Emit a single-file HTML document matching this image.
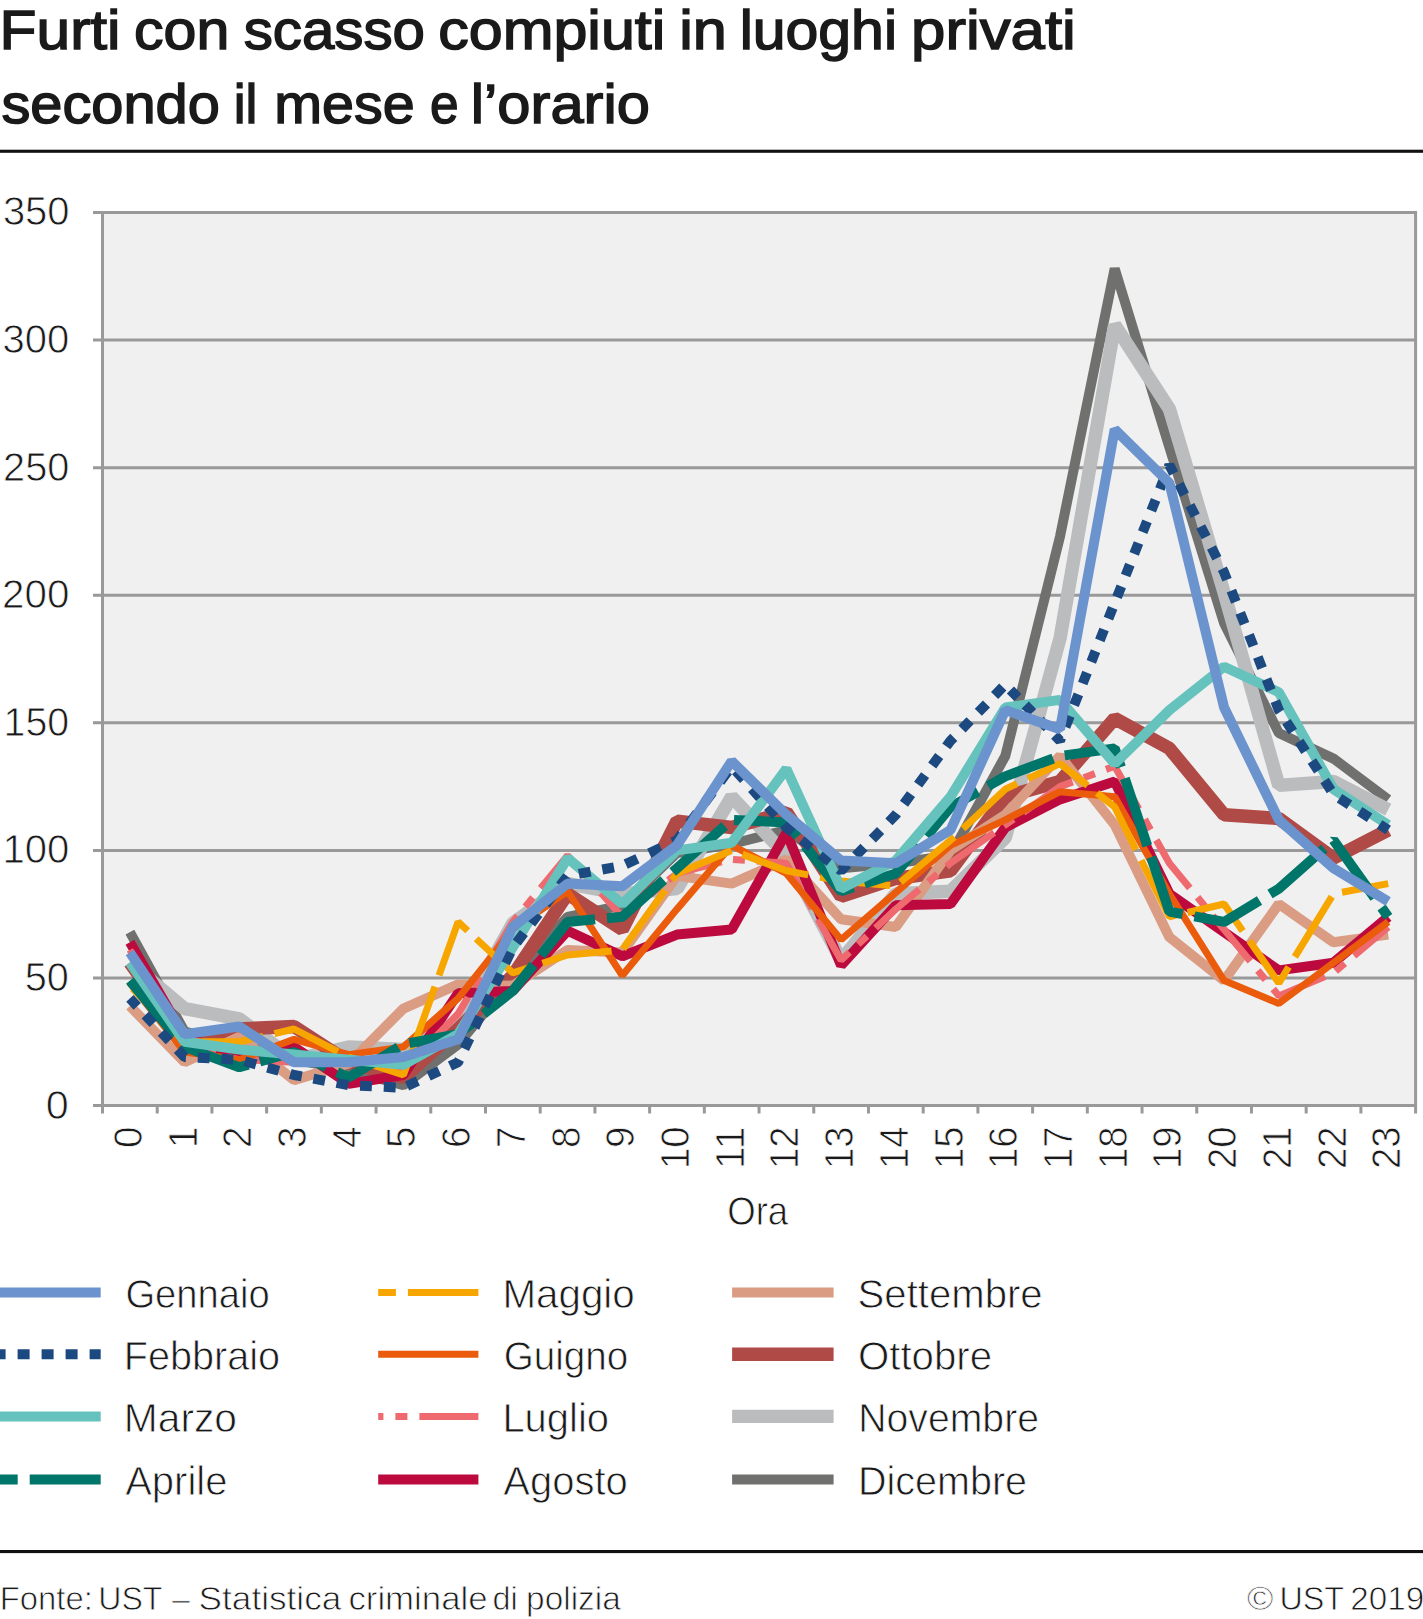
<!DOCTYPE html>
<html lang="it"><head><meta charset="utf-8"><title>Furti con scasso compiuti in luoghi privati secondo il mese e l’orario</title>
<style>html,body{margin:0;padding:0;background:#fff}body{width:1423px;height:1619px;overflow:hidden}svg{display:block}text{font-family:'Liberation Sans', sans-serif;fill:#1a1a1a}.lt{stroke:#fff;stroke-width:0.8px}.ti{stroke:#1a1a1a;stroke-width:1.5px}</style></head><body>
<svg width="1423" height="1619" viewBox="0 0 1423 1619">
<rect width="1423" height="1619" fill="#fff"/>
<text id="t1" class="ti" y="48.9" font-size="56"><tspan x="-0.4" textLength="120.9" lengthAdjust="spacingAndGlyphs">Furti</tspan> <tspan x="134.1" textLength="95.2" lengthAdjust="spacingAndGlyphs">con</tspan> <tspan x="243.7" textLength="181.3" lengthAdjust="spacingAndGlyphs">scasso</tspan> <tspan x="438.3" textLength="227.0" lengthAdjust="spacingAndGlyphs">compiuti</tspan> <tspan x="679.2" textLength="47.6" lengthAdjust="spacingAndGlyphs">in</tspan> <tspan x="739.7" textLength="157.3" lengthAdjust="spacingAndGlyphs">luoghi</tspan> <tspan x="911.1" textLength="164.7" lengthAdjust="spacingAndGlyphs">privati</tspan></text>
<text id="t2" class="ti" y="122.6" font-size="56"><tspan x="1.4" textLength="218.4" lengthAdjust="spacingAndGlyphs">secondo</tspan> <tspan x="233.7" textLength="23.7" lengthAdjust="spacingAndGlyphs">il</tspan> <tspan x="274.3" textLength="140.4" lengthAdjust="spacingAndGlyphs">mese</tspan> <tspan x="430.0" textLength="28.6" lengthAdjust="spacingAndGlyphs">e</tspan> <tspan x="470.8" textLength="179.1" lengthAdjust="spacingAndGlyphs">l’orario</tspan></text>
<rect x="0" y="149.7" width="1423" height="3.1" fill="#111"/>
<rect x="102.5" y="212.5" width="1313.1" height="893.1" fill="#f0f0f0"/>
<path d="M93.0 1105.60H1415.6M93.0 978.01H1415.6M93.0 850.43H1415.6M93.0 722.84H1415.6M93.0 595.26H1415.6M93.0 467.67H1415.6M93.0 340.09H1415.6M93.0 212.50H1415.6M102.5 211.1V1113.6M1415.6 211.1V1113.6M102.50 1105.6V1113.6M157.21 1105.6V1113.6M211.93 1105.6V1113.6M266.64 1105.6V1113.6M321.35 1105.6V1113.6M376.06 1105.6V1113.6M430.77 1105.6V1113.6M485.49 1105.6V1113.6M540.20 1105.6V1113.6M594.91 1105.6V1113.6M649.62 1105.6V1113.6M704.34 1105.6V1113.6M759.05 1105.6V1113.6M813.76 1105.6V1113.6M868.48 1105.6V1113.6M923.19 1105.6V1113.6M977.90 1105.6V1113.6M1032.61 1105.6V1113.6M1087.32 1105.6V1113.6M1142.04 1105.6V1113.6M1196.75 1105.6V1113.6M1251.46 1105.6V1113.6M1306.17 1105.6V1113.6M1360.89 1105.6V1113.6" fill="none" stroke="#999" stroke-width="3"/>
<text id="y0" class="lt" x="45.8" y="1118.5" font-size="41" textLength="23.0" lengthAdjust="spacingAndGlyphs">0</text>
<text id="y50" class="lt" x="24.7" y="990.9" font-size="41" textLength="44.1" lengthAdjust="spacingAndGlyphs">50</text>
<text id="y100" class="lt" x="2.5" y="863.3" font-size="41" textLength="66.8" lengthAdjust="spacingAndGlyphs">100</text>
<text id="y150" class="lt" x="3.6" y="735.7" font-size="41" textLength="65.5" lengthAdjust="spacingAndGlyphs">150</text>
<text id="y200" class="lt" x="2.1" y="608.2" font-size="41" textLength="67.3" lengthAdjust="spacingAndGlyphs">200</text>
<text id="y250" class="lt" x="3.1" y="480.6" font-size="41" textLength="66.2" lengthAdjust="spacingAndGlyphs">250</text>
<text id="y300" class="lt" x="2.5" y="353.0" font-size="41" textLength="66.7" lengthAdjust="spacingAndGlyphs">300</text>
<text id="y350" class="lt" x="2.9" y="225.4" font-size="41" textLength="66.6" lengthAdjust="spacingAndGlyphs">350</text>
<text class="lt" font-size="41" text-anchor="end" textLength="21.5" lengthAdjust="spacingAndGlyphs" transform="translate(141.9 1126.6) rotate(-90)">0</text>
<text class="lt" font-size="41" text-anchor="end" textLength="21.5" lengthAdjust="spacingAndGlyphs" transform="translate(196.6 1126.6) rotate(-90)">1</text>
<text class="lt" font-size="41" text-anchor="end" textLength="21.5" lengthAdjust="spacingAndGlyphs" transform="translate(251.3 1126.6) rotate(-90)">2</text>
<text class="lt" font-size="41" text-anchor="end" textLength="21.5" lengthAdjust="spacingAndGlyphs" transform="translate(306.0 1126.6) rotate(-90)">3</text>
<text class="lt" font-size="41" text-anchor="end" textLength="21.5" lengthAdjust="spacingAndGlyphs" transform="translate(360.7 1126.6) rotate(-90)">4</text>
<text class="lt" font-size="41" text-anchor="end" textLength="21.5" lengthAdjust="spacingAndGlyphs" transform="translate(415.4 1126.6) rotate(-90)">5</text>
<text class="lt" font-size="41" text-anchor="end" textLength="21.5" lengthAdjust="spacingAndGlyphs" transform="translate(470.1 1126.6) rotate(-90)">6</text>
<text class="lt" font-size="41" text-anchor="end" textLength="21.5" lengthAdjust="spacingAndGlyphs" transform="translate(524.8 1126.6) rotate(-90)">7</text>
<text class="lt" font-size="41" text-anchor="end" textLength="21.5" lengthAdjust="spacingAndGlyphs" transform="translate(579.6 1126.6) rotate(-90)">8</text>
<text class="lt" font-size="41" text-anchor="end" textLength="21.5" lengthAdjust="spacingAndGlyphs" transform="translate(634.3 1126.6) rotate(-90)">9</text>
<text class="lt" font-size="41" text-anchor="end" textLength="42.5" lengthAdjust="spacingAndGlyphs" transform="translate(689.0 1126.6) rotate(-90)">10</text>
<text class="lt" font-size="41" text-anchor="end" textLength="42.5" lengthAdjust="spacingAndGlyphs" transform="translate(743.7 1126.6) rotate(-90)">11</text>
<text class="lt" font-size="41" text-anchor="end" textLength="42.5" lengthAdjust="spacingAndGlyphs" transform="translate(798.4 1126.6) rotate(-90)">12</text>
<text class="lt" font-size="41" text-anchor="end" textLength="42.5" lengthAdjust="spacingAndGlyphs" transform="translate(853.1 1126.6) rotate(-90)">13</text>
<text class="lt" font-size="41" text-anchor="end" textLength="42.5" lengthAdjust="spacingAndGlyphs" transform="translate(907.8 1126.6) rotate(-90)">14</text>
<text class="lt" font-size="41" text-anchor="end" textLength="42.5" lengthAdjust="spacingAndGlyphs" transform="translate(962.5 1126.6) rotate(-90)">15</text>
<text class="lt" font-size="41" text-anchor="end" textLength="42.5" lengthAdjust="spacingAndGlyphs" transform="translate(1017.3 1126.6) rotate(-90)">16</text>
<text class="lt" font-size="41" text-anchor="end" textLength="42.5" lengthAdjust="spacingAndGlyphs" transform="translate(1072.0 1126.6) rotate(-90)">17</text>
<text class="lt" font-size="41" text-anchor="end" textLength="42.5" lengthAdjust="spacingAndGlyphs" transform="translate(1126.7 1126.6) rotate(-90)">18</text>
<text class="lt" font-size="41" text-anchor="end" textLength="42.5" lengthAdjust="spacingAndGlyphs" transform="translate(1181.4 1126.6) rotate(-90)">19</text>
<text class="lt" font-size="41" text-anchor="end" textLength="42.5" lengthAdjust="spacingAndGlyphs" transform="translate(1236.1 1126.6) rotate(-90)">20</text>
<text class="lt" font-size="41" text-anchor="end" textLength="42.5" lengthAdjust="spacingAndGlyphs" transform="translate(1290.8 1126.6) rotate(-90)">21</text>
<text class="lt" font-size="41" text-anchor="end" textLength="42.5" lengthAdjust="spacingAndGlyphs" transform="translate(1345.5 1126.6) rotate(-90)">22</text>
<text class="lt" font-size="41" text-anchor="end" textLength="42.5" lengthAdjust="spacingAndGlyphs" transform="translate(1400.2 1126.6) rotate(-90)">23</text>
<text id="ora" class="lt" x="727.2" y="1224.6" font-size="40.5" textLength="61.0" lengthAdjust="spacingAndGlyphs">Ora</text>
<g fill="none" stroke-linejoin="bevel" stroke-linecap="butt">
<polyline points="129.9,932.1 184.6,1031.6 239.3,1044.4 294.0,1059.7 348.7,1069.9 403.4,1085.2 458.1,1044.4 512.8,978.0 567.6,916.8 622.3,905.3 677.0,853.0 731.7,844.0 786.4,830.0 841.1,868.3 895.8,863.2 950.5,855.5 1005.3,756.0 1060.0,536.6 1114.7,268.6 1169.4,447.3 1224.1,623.3 1278.8,733.0 1333.5,758.6 1388.2,799.4" stroke="#70706f" stroke-width="10"/>
<polyline points="129.9,962.7 184.6,1008.6 239.3,1018.8 294.0,1059.7 348.7,1046.9 403.4,1049.5 458.1,1021.4 512.8,923.2 567.6,883.6 622.3,893.8 677.0,888.7 731.7,796.8 786.4,855.5 841.1,960.2 895.8,893.8 950.5,891.3 1005.3,837.7 1060.0,638.6 1114.7,324.8 1169.4,409.0 1224.1,592.7 1278.8,785.4 1333.5,781.5 1388.2,809.6" stroke="#bbbcbe" stroke-width="13.4"/>
<polyline points="129.9,962.7 184.6,1039.3 239.3,1029.0 294.0,1026.5 348.7,1062.2 403.4,1077.5 458.1,1029.0 512.8,975.5 567.6,893.8 622.3,929.5 677.0,821.1 731.7,827.5 786.4,812.2 841.1,896.4 895.8,878.5 950.5,870.8 1005.3,796.8 1060.0,781.5 1114.7,718.5 1169.4,748.4 1224.1,814.7 1278.8,818.5 1333.5,858.1 1388.2,830.0" stroke="#b04a46" stroke-width="13.4"/>
<polyline points="129.9,1006.1 184.6,1062.2 239.3,1036.7 294.0,1080.1 348.7,1063.5 403.4,1008.6 458.1,984.4 512.8,985.7 567.6,949.9 622.3,952.5 677.0,875.9 731.7,883.6 786.4,859.4 841.1,919.3 895.8,927.0 950.5,850.4 1005.3,814.7 1060.0,756.0 1114.7,824.9 1169.4,937.2 1224.1,980.6 1278.8,904.0 1333.5,942.3 1388.2,934.6" stroke="#db9c84" stroke-width="10"/>
<polyline points="129.9,942.3 184.6,1036.7 239.3,1057.1 294.0,1046.9 348.7,1083.9 403.4,1075.0 458.1,993.3 512.8,990.8 567.6,930.8 622.3,956.3 677.0,934.6 731.7,929.5 786.4,832.6 841.1,965.3 895.8,905.3 950.5,904.0 1005.3,827.5 1060.0,799.4 1114.7,781.5 1169.4,893.8 1224.1,932.1 1278.8,970.4 1333.5,962.7 1388.2,916.8" stroke="#bc0a3e" stroke-width="10"/>
<path d="M129.9 949.9L153.1 991.2M159.1 1001.7L165.0 1012.2M170.9 1022.8L184.6 1046.9L215.4 1054.1M227.2 1056.9L239.0 1059.6M251.1 1060.2L294.0 1062.2L310.4 1061.8M322.5 1061.6L334.6 1061.3M346.7 1061.0L348.7 1060.9L403.4 1069.9L404.8 1068.5M413.2 1059.8L421.7 1051.1M430.1 1042.5L458.1 1013.7L468.0 997.2M474.1 986.9L480.3 976.6M486.4 966.3L512.8 921.9L517.6 916.1M525.3 906.8L532.9 897.6M540.6 888.3L567.6 855.5L578.1 867.4M585.8 875.9L593.4 884.4M601.0 893.0L622.3 916.8L641.3 901.7M650.3 894.5L659.3 887.4M668.2 880.3L677.0 873.4L721.6 861.9M733.0 859.5L744.9 860.3M756.7 861.1L786.4 863.2L800.5 888.2M806.4 898.6L812.2 908.9M818.0 919.3L841.1 960.2L849.5 952.3M858.2 944.2L866.9 936.1M875.6 928.0L895.8 909.1L919.3 889.4M928.4 881.8L937.5 874.2M946.6 866.5L950.5 863.2L994.1 832.7M1003.8 825.9L1005.3 824.9L1013.6 819.1M1023.3 812.3L1060.0 786.6L1072.7 781.9M1083.8 777.7L1094.9 773.6M1106.0 769.4L1114.7 766.2L1138.8 809.0M1144.7 819.3L1150.5 829.7M1156.3 840.0L1169.4 863.2L1189.8 888.0M1197.5 897.2L1205.1 906.5M1212.7 915.7L1224.1 929.5L1250.3 961.2M1257.9 970.5L1265.5 979.8M1273.2 989.0L1278.8 995.9L1325.0 976.5M1335.7 971.1L1344.8 963.4M1354.0 955.7L1388.2 927.0" stroke="#ee6a6e" stroke-width="7"/>
<polyline points="129.9,983.1 184.6,1052.0 239.3,1059.7 294.0,1039.3 348.7,1054.6 403.4,1046.9 458.1,998.4 512.8,929.5 567.6,891.3 622.3,975.5 677.0,909.1 731.7,845.3 786.4,873.4 841.1,939.7 895.8,892.5 950.5,845.3 1005.3,819.8 1060.0,791.7 1114.7,796.8 1169.4,893.8 1224.1,980.6 1278.8,1003.5 1333.5,962.7 1388.2,921.9" stroke="#ea5b0c" stroke-width="7"/>
<path d="M132.6 988.5L182.2 1039.4M193.2 1041.8L239.3 1041.8L263.0 1036.3M274.4 1033.6L294.0 1029.0L337.9 1051.6M348.4 1057.0L348.7 1057.1L403.4 1075.0L407.3 1064.1M411.3 1052.9L435.0 986.6M439.0 975.4L458.1 921.9L467.7 930.8M476.2 938.8L512.8 972.9L531.1 967.0M542.4 963.3L567.6 955.0L611.6 950.9M623.0 948.9L665.0 890.2M672.1 880.3L677.0 873.4L731.5 850.5M742.4 854.4L786.4 870.8L808.2 874.9M820.0 877.1L841.1 881.0L890.2 885.6M900.6 882.1L950.5 840.2L954.3 836.8M963.0 828.6L1005.3 789.2L1017.0 783.7M1027.9 778.6L1060.0 763.7L1087.6 785.6M1097.0 793.0L1114.7 807.0L1135.9 849.7M1141.2 860.3L1169.4 916.8L1176.0 915.2M1187.5 912.5L1224.1 904.0L1242.7 930.9M1249.5 940.7L1278.8 983.1L1288.7 967.0M1294.9 956.8L1331.8 896.7M1342.0 892.2L1388.2 883.6" stroke="#f7a600" stroke-width="7"/>
<path d="M129.9 980.6L175.0 1035.3M182.6 1044.5L184.6 1046.9L239.3 1067.3L248.4 1064.8M259.9 1061.5L294.0 1052.0L326.2 1067.1M337.1 1072.1L348.7 1077.5L398.4 1047.4M409.4 1043.2L458.1 1034.2L474.4 1021.3M483.7 1013.9L512.8 990.8L533.5 964.8M540.9 955.4L567.6 921.9L595.1 919.3M607.0 918.2L622.3 916.8L663.7 880.0M672.7 872.1L677.0 868.3L724.6 826.1M734.0 819.9L786.4 822.4L797.6 836.5M805.1 845.9L841.1 891.3L853.3 887.3M864.5 883.6L895.8 873.4L919.1 845.2M926.6 836.1L950.5 807.0L978.1 791.7M988.2 786.0L1005.3 776.4L1053.2 758.5M1064.7 755.4L1114.7 748.4L1120.9 767.1M1124.8 778.4L1147.3 845.8M1151.2 857.2L1169.4 911.7L1182.7 914.2M1194.5 916.3L1224.1 921.9L1259.5 900.4M1270.0 894.1L1278.8 888.7L1324.3 848.4M1333.3 840.4L1333.5 840.2L1374.6 897.8M1381.6 907.5L1388.2 916.8" stroke="#00756a" stroke-width="10"/>
<polyline points="129.9,962.7 184.6,1041.8 239.3,1049.5 294.0,1054.6 348.7,1059.7 403.4,1064.8 458.1,1034.2 512.8,947.4 567.6,858.1 622.3,904.0 677.0,850.4 731.7,842.8 786.4,768.8 841.1,888.7 895.8,860.6 950.5,796.8 1005.3,707.5 1060.0,699.9 1114.7,763.7 1169.4,710.1 1224.1,666.7 1278.8,692.2 1333.5,789.2 1388.2,824.9" stroke="#66c2bc" stroke-width="10"/>
<path d="M129.9 998.4L137.2 1006.3M145.3 1015.0L153.3 1023.6M161.4 1032.3L169.4 1040.9M177.5 1049.5L184.6 1057.1L186.0 1057.2M197.8 1057.7L209.6 1058.3M221.4 1058.8L233.2 1059.4M244.8 1061.2L256.1 1064.4M267.5 1067.6L278.9 1070.8M290.3 1073.9L294.0 1075.0L301.8 1076.4M313.4 1078.6L325.0 1080.8M336.6 1082.9L348.2 1085.1M360.1 1085.7L371.9 1086.3M383.8 1086.8L395.7 1087.4M407.1 1086.0L417.8 1081.0M428.6 1076.0L439.3 1071.0M450.0 1066.0L458.1 1062.2L459.4 1059.6M464.5 1048.9L469.6 1038.2M474.7 1027.5L479.8 1016.8M484.9 1006.0L490.0 995.3M495.1 984.6L500.2 973.9M505.3 963.1L510.5 952.4M516.7 942.4L523.9 932.9M531.2 923.5L538.4 914.0M545.7 904.5L552.9 895.1M560.1 885.6L567.4 876.2M578.9 873.8L590.6 871.6M602.3 869.5L614.0 867.3M625.7 864.1L637.4 858.7M649.2 853.2L660.9 847.7M672.6 842.3L677.0 840.2L681.8 833.7M689.5 823.3L697.2 812.9M704.9 802.5L712.6 792.1M720.2 781.7L727.9 771.3M735.8 770.8L743.8 779.7M751.8 788.7L759.8 797.6M767.8 806.6L775.8 815.5M783.8 824.5L786.4 827.5L792.6 832.4M801.9 839.7L811.1 847.1M820.4 854.4L829.7 861.8M838.9 869.1L841.1 870.8L847.5 864.3M855.7 855.8L864.0 847.3M872.3 838.9L880.6 830.4M888.9 821.9L895.8 814.7L896.9 813.2M904.0 803.7L911.0 794.1M918.1 784.6L925.1 775.1M932.2 765.5L939.2 756.0M946.3 746.4L950.5 740.7L953.8 737.4M962.0 729.0L970.1 720.6M978.3 712.2L986.5 703.9M994.6 695.5L1002.8 687.1M1010.4 689.9L1017.8 697.4M1025.2 705.0L1032.6 712.6M1040.0 720.2L1047.3 727.8M1054.7 735.3L1060.0 740.7L1061.2 737.6M1065.5 726.8L1069.8 715.9M1074.1 705.1L1078.4 694.3M1082.7 683.5L1087.0 672.7M1091.3 661.9L1095.5 651.1M1099.8 640.3L1104.1 629.5M1108.4 618.7L1112.7 607.9M1117.0 597.1L1121.3 586.3M1125.6 575.5L1129.9 564.7M1134.2 553.8L1138.5 543.0M1142.7 532.2L1147.0 521.4M1151.3 510.6L1155.6 499.8M1159.9 489.0L1164.2 478.2M1168.5 467.4L1169.4 465.1L1173.7 473.5M1179.1 484.1L1184.5 494.7M1189.9 505.3L1195.3 515.8M1200.7 526.4L1206.1 537.0M1211.5 547.6L1216.9 558.2M1222.3 568.8L1224.1 572.3L1227.0 579.7M1231.4 590.7L1235.8 601.8M1240.2 612.8L1244.6 623.9M1249.0 634.9L1253.4 646.0M1257.8 657.0L1262.1 668.1M1266.5 679.1L1270.9 690.2M1275.3 701.2L1278.8 710.1L1280.1 712.0M1286.4 721.8L1292.8 731.6M1299.2 741.4L1305.5 751.2M1311.9 761.0L1318.3 770.8M1324.6 780.6L1331.0 790.4M1339.5 798.2L1349.5 804.7M1359.6 811.3L1369.6 817.8M1379.6 824.4L1388.2 830.0" stroke="#1c4a80" stroke-width="10"/>
<polyline points="129.9,952.5 184.6,1034.2 239.3,1026.5 294.0,1062.2 348.7,1062.2 403.4,1057.1 458.1,1039.3 512.8,927.0 567.6,883.6 622.3,886.2 677.0,845.3 731.7,761.1 786.4,814.7 841.1,860.6 895.8,863.2 950.5,830.0 1005.3,710.1 1060.0,729.2 1114.7,429.4 1169.4,483.0 1224.1,707.5 1278.8,819.8 1333.5,868.3 1388.2,901.5" stroke="#6b93cd" stroke-width="10"/>
</g>
<path d="M0.0 1292.4H100.7" stroke="#6b93cd" stroke-width="10" fill="none"/>
<text id="LGennaio" class="lt" x="125.4" y="1308.2" font-size="40.5" textLength="144.3" lengthAdjust="spacingAndGlyphs">Gennaio</text>
<path d="M0.0 1354.3H100.7" stroke="#1c4a80" stroke-width="10" fill="none" stroke-dasharray="12 12" stroke-dashoffset="6.4"/>
<text id="LFebbraio" class="lt" x="123.7" y="1370.1" font-size="40.5" textLength="156.4" lengthAdjust="spacingAndGlyphs">Febbraio</text>
<path d="M0.0 1416.4H100.7" stroke="#66c2bc" stroke-width="10" fill="none"/>
<text id="LMarzo" class="lt" x="123.8" y="1432.2" font-size="40.5" textLength="113.2" lengthAdjust="spacingAndGlyphs">Marzo</text>
<path d="M0.0 1479.6H100.7" stroke="#00756a" stroke-width="10" fill="none" stroke-dasharray="71 12" stroke-dashoffset="53.3"/>
<text id="LAprile" class="lt" x="125.2" y="1495.4" font-size="40.5" textLength="102.2" lengthAdjust="spacingAndGlyphs">Aprile</text>
<path d="M378.2 1292.4H478.4" stroke="#f7a600" stroke-width="7" fill="none" stroke-dasharray="71 12" stroke-dashoffset="53.3"/>
<text id="LMaggio" class="lt" x="502.4" y="1308.2" font-size="40.5" textLength="132.4" lengthAdjust="spacingAndGlyphs">Maggio</text>
<path d="M378.2 1354.3H478.4" stroke="#ea5b0c" stroke-width="7" fill="none"/>
<text id="LGuigno" class="lt" x="503.8" y="1370.1" font-size="40.5" textLength="124.5" lengthAdjust="spacingAndGlyphs">Guigno</text>
<path d="M478.4 1416.4H378.2" stroke="#ee6a6e" stroke-width="7" fill="none" stroke-dasharray="59 12 12 12"/>
<text id="LLuglio" class="lt" x="502.4" y="1432.2" font-size="40.5" textLength="106.6" lengthAdjust="spacingAndGlyphs">Luglio</text>
<path d="M378.2 1479.6H478.4" stroke="#bc0a3e" stroke-width="10" fill="none"/>
<text id="LAgosto" class="lt" x="503.3" y="1495.4" font-size="40.5" textLength="124.5" lengthAdjust="spacingAndGlyphs">Agosto</text>
<path d="M732.1 1292.4H833.6" stroke="#db9c84" stroke-width="10" fill="none"/>
<text id="LSettembre" class="lt" x="857.6" y="1308.2" font-size="40.5" textLength="185.0" lengthAdjust="spacingAndGlyphs">Settembre</text>
<path d="M732.1 1354.3H833.6" stroke="#b04a46" stroke-width="13.4" fill="none"/>
<text id="LOttobre" class="lt" x="858.0" y="1370.1" font-size="40.5" textLength="134.0" lengthAdjust="spacingAndGlyphs">Ottobre</text>
<path d="M732.1 1416.4H833.6" stroke="#bbbcbe" stroke-width="13.4" fill="none"/>
<text id="LNovembre" class="lt" x="858.2" y="1432.2" font-size="40.5" textLength="180.8" lengthAdjust="spacingAndGlyphs">Novembre</text>
<path d="M732.1 1479.6H833.6" stroke="#70706f" stroke-width="10" fill="none"/>
<text id="LDicembre" class="lt" x="858.0" y="1495.4" font-size="40.5" textLength="169.0" lengthAdjust="spacingAndGlyphs">Dicembre</text>
<rect x="0" y="1550" width="1423" height="3.1" fill="#111"/>
<text id="f1" class="lt" y="1609.8" font-size="33"><tspan x="-0.3" textLength="93.1" lengthAdjust="spacingAndGlyphs">Fonte:</tspan> <tspan x="98.3" textLength="63.6" lengthAdjust="spacingAndGlyphs">UST</tspan> <tspan x="171.9" textLength="17.9" lengthAdjust="spacingAndGlyphs">–</tspan> <tspan x="198.6" textLength="142.7" lengthAdjust="spacingAndGlyphs">Statistica</tspan> <tspan x="348.4" textLength="139.3" lengthAdjust="spacingAndGlyphs">criminale</tspan> <tspan x="492.5" textLength="25.2" lengthAdjust="spacingAndGlyphs">di</tspan> <tspan x="526.1" textLength="94.7" lengthAdjust="spacingAndGlyphs">polizia</tspan></text>
<text id="f2" class="lt" y="1609.9" font-size="33"><tspan x="1247.0" textLength="26.4" lengthAdjust="spacingAndGlyphs">©</tspan> <tspan x="1279.4" textLength="64.1" lengthAdjust="spacingAndGlyphs">UST</tspan> <tspan x="1350.3" textLength="73.9" lengthAdjust="spacingAndGlyphs">2019</tspan></text>
</svg></body></html>
